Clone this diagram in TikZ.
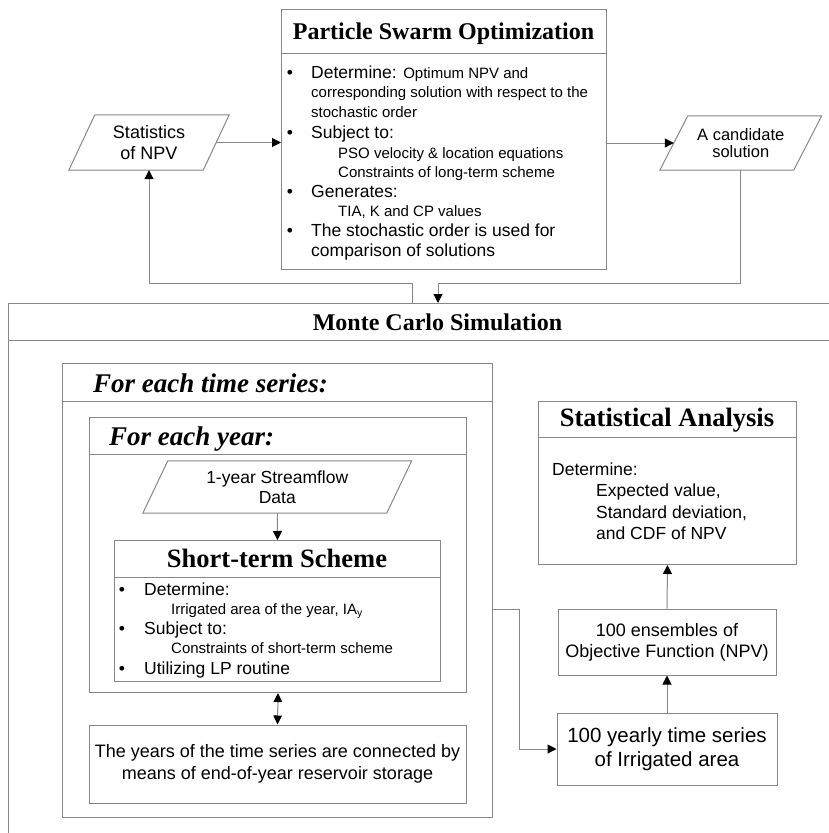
\documentclass[tikz,border=0pt]{standalone}
\usepackage{fontspec}
\setmainfont{Liberation Sans}
\newfontfamily\titlefont{Liberation Serif}
\usetikzlibrary{arrows.meta}
\definecolor{lg}{RGB}{135,135,135}
\newcommand\fsz[2]{\fontsize{#1}{#2}\selectfont}
\newcommand\paraframe[2]{\draw[hl,line join=miter] ([xshift=#2pt]#1.north west) -- ([xshift=#2pt]#1.north east)
  -- ([xshift=-#2pt]#1.south east) -- ([xshift=-#2pt]#1.south west) -- cycle;}
\begin{document}
\begin{tikzpicture}[x=1pt,y=-1pt,
  box/.style={draw=lg,line width=1pt,fill=white,inner sep=0pt},
  hl/.style={draw=lg,line width=1pt},
  tip/.style={},
  arr/.style={draw=lg,line width=1pt,-{Triangle[length=9pt,width=9pt,color=black]}},
  darr/.style={draw=lg,line width=1pt,{Triangle[length=9pt,width=8.5pt,color=black]}-{Triangle[length=9pt,width=8.5pt,color=black]}},
  para/.style={inner sep=0pt,align=center},
  ttl/.style={font=\titlefont\bfseries\fsz{24}{24},inner sep=0pt,anchor=base},
  ttli/.style={font=\titlefont\bfseries\itshape\fsz{27}{27},inner sep=0pt,anchor=base west},
  big/.style={font=\fsz{17.5}{20},inner sep=0pt,anchor=base west},
  sml/.style={font=\fsz{15}{18},inner sep=0pt,anchor=base west},
  bul/.style={font=\fsz{17.5}{20},inner sep=0pt,anchor=base}
]
\useasboundingbox[fill=white] (0,0) rectangle (829,833);

% ---------------- PSO ----------------
\node[box,anchor=north west,minimum width=325pt,minimum height=260pt] (pso) at (281,9) {};
\draw[hl] ([yshift=-44pt]pso.north west) -- ([yshift=-44pt]pso.north east);
\node[ttl] (psot) at (443.5,39) {Particle Swarm Optimization};
\node[bul] (pb1) at (290,78) {•};
\node[big] (p1) at (311,78) {Determine: {\fsz{15}{18}Optimum NPV and}};
\node[sml] (p2) at (311,97.5) {corresponding solution with respect to the};
\node[sml] (p3) at (311,117.5) {stochastic order};
\node[bul] (pb2) at (290,138) {•};
\node[big] (p4) at (311,138) {Subject to:};
\node[sml] (p5) at (338,158) {PSO velocity \& location equations};
\node[sml] (p6) at (338,177) {Constraints of long-term scheme};
\node[bul] (pb3) at (290,197.5) {•};
\node[big] (p7) at (311,197.5) {Generates:};
\node[sml] (p8) at (338,216.5) {TIA, K and CP values};
\node[bul] (pb4) at (290,236.5) {•};
\node[big] (p9) at (311,236.5) {The stochastic order is used for};
\node[big] (p10) at (311,256) {comparison of solutions};

% ---------------- parallelograms ----------------
\node[para,minimum width=134pt,minimum height=55pt,font=\fsz{18}{21}] (npv) at (149,142.5) {Statistics\\of NPV};
\paraframe{npv}{13}
\node[para,minimum width=133.5pt,minimum height=54pt,font=\fsz{16.5}{17}] (cand) at (740.75,143) {A candidate\\solution};
\paraframe{cand}{14}

% ---------------- Monte Carlo ----------------
\node[box,anchor=north west,minimum width=860pt,minimum height=600pt] (mc) at (8,303) {};
\draw[hl] ([yshift=-37pt]mc.north west) -- ([yshift=-37pt]mc.north east);
\node[ttl] (mct) at (437.5,330) {Monte Carlo Simulation};

% time series box
\node[box,anchor=north west,minimum width=430pt,minimum height=454pt] (ts) at (62,363) {};
\draw[hl] ([yshift=-38pt]ts.north west) -- ([yshift=-38pt]ts.north east);
\node[ttli] (tst) at (93,392.5) {For each time series:};

% year box
\node[box,anchor=north west,minimum width=377pt,minimum height=275pt] (yr) at (89,417) {};
\draw[hl] ([yshift=-37pt]yr.north west) -- ([yshift=-37pt]yr.north east);
\node[ttli] (yrt) at (109,445.5) {For each year:};

\node[para,minimum width=243.5pt,minimum height=52pt,font=\fsz{17.5}{19.5}] (sf) at (277.25,487) {1-year Streamflow\\Data};
\paraframe{sf}{12.5}

% short-term scheme
\node[box,anchor=north west,minimum width=326pt,minimum height=141pt] (st) at (114,540) {};
\draw[hl] ([yshift=-37pt]st.north west) -- ([yshift=-37pt]st.north east);
\node[ttl,font=\titlefont\bfseries\fsz{26.5}{26.5}] (stt) at (277,567) {Short-term Scheme};
\node[bul] (sb1) at (122,595) {•};
\node[big] (s1) at (144,595) {Determine:};
\node[sml] (s2) at (171,614) {Irrigated area of the year, IA\textsubscript{y}};
\node[bul] (sb2) at (122,634) {•};
\node[big] (s3) at (144,634) {Subject to:};
\node[sml] (s4) at (171,653) {Constraints of short-term scheme};
\node[bul] (sb3) at (122,674) {•};
\node[big] (s5) at (144,674) {Utilizing LP routine};

% reservoir box
\node[box,minimum width=377pt,minimum height=78pt,align=center,font=\fsz{18}{22}] (res) at (277.5,764)
  {The years of the time series are connected by\\means of end-of-year reservoir storage};

% statistical analysis
\node[box,anchor=north west,minimum width=258pt,minimum height=163pt] (sa) at (538,401) {};
\draw[hl] ([yshift=-36pt]sa.north west) -- ([yshift=-36pt]sa.north east);
\node[ttl,font=\titlefont\bfseries\fsz{26.5}{26.5}] (sat) at (667,426.5) {Statistical Analysis};
\node[big] (a1) at (552,475) {Determine:};
\node[big] (a2) at (596,496.5) {Expected value,};
\node[big] (a3) at (596,518) {Standard deviation,};
\node[big] (a4) at (596,539) {and CDF of NPV};

\node[box,minimum width=218pt,minimum height=66pt,align=center,font=\fsz{18}{21}] (ens) at (667,642)
  {100 ensembles of\\Objective Function (NPV)};
\node[box,minimum width=220pt,minimum height=72pt,align=center,font=\fsz{20.5}{24}] (yts) at (667,749)
  {100 yearly time series\\of Irrigated area};

% ---------------- connectors ----------------
\coordinate (hy) at (0,283);
\coordinate (fbL) at (412,303);
\coordinate (fbR) at (438,303);
\coordinate (tsout) at (492,609);
\draw[arr] (npv.east) -- (npv.east -| pso.west);
\draw[arr] (pso.east |- cand.west) -- (cand.west);
\draw[arr] (fbL) -- (fbL |- hy) -| (npv.south);
\draw[arr] (cand.south) -- (cand.south |- hy) -| (fbR);
\draw[arr] (sf.south) -- (st.north);
\draw[darr] (yr.south) -- (res.north);
\draw[arr] (tsout) -- ++(27,0) |- (yts.west);
\draw[arr] (yts.north) -- (ens.south);
\draw[arr] (ens.north) -- (sa.south);
\end{tikzpicture}
\end{document}
